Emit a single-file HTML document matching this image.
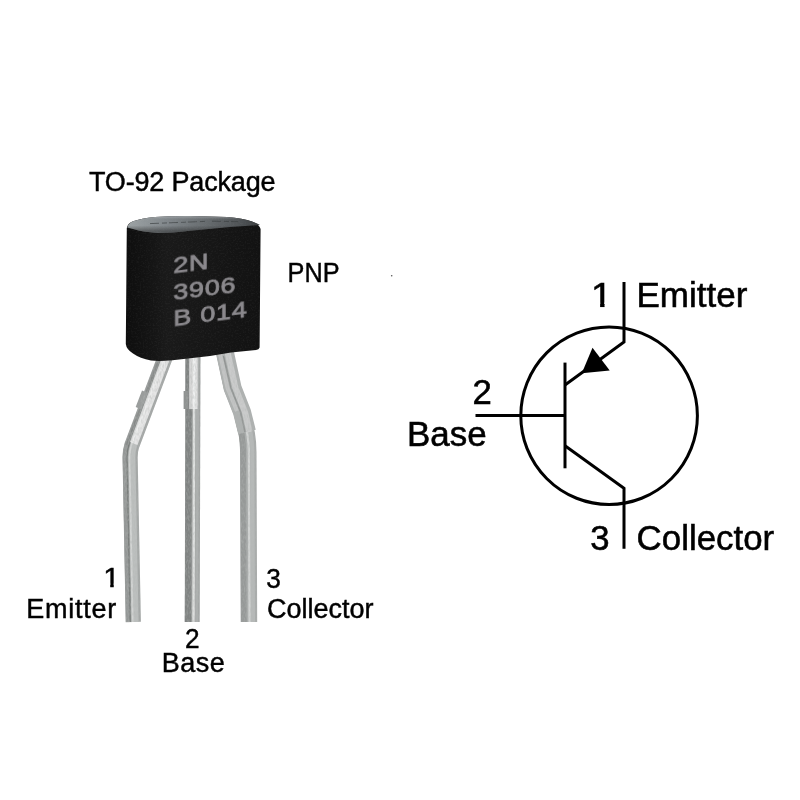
<!DOCTYPE html>
<html lang="en">
<head>
<meta charset="utf-8">
<title>2N3906 PNP Transistor Pinout</title>
<style>
html,body{margin:0;padding:0;background:#fff;}
body{width:800px;height:800px;overflow:hidden;position:relative;font-family:"Liberation Sans",sans-serif;color:#000;}
svg{position:absolute;left:0;top:0;display:block;}
text{font-family:"Liberation Sans",sans-serif;fill:#000;}
.sch{font-size:34.2px;stroke:#000;stroke-width:0.55px;}
.lbl{font-family:"Liberation Sans",sans-serif;font-size:27px;stroke:#000;stroke-width:0.45px;}
.mark{font-size:22.5px;fill:#8b898d;stroke:#8b898d;stroke-width:0.8px;letter-spacing:0.6px;}
.lead{fill:none;stroke-linejoin:round;stroke-linecap:butt;}
</style>
</head>
<body>
<svg width="800" height="800" viewBox="0 0 800 800">
<defs>
  <linearGradient id="bodyg" gradientUnits="userSpaceOnUse" x1="126" y1="0" x2="261" y2="0">
    <stop offset="0" stop-color="#0e0e0e"/>
    <stop offset="0.2" stop-color="#151515"/>
    <stop offset="0.3" stop-color="#1a1a1a"/>
    <stop offset="1" stop-color="#121212"/>
  </linearGradient>
  <linearGradient id="topg" gradientUnits="userSpaceOnUse" x1="128" y1="0" x2="260" y2="0">
    <stop offset="0" stop-color="#9ca2a4"/>
    <stop offset="0.3" stop-color="#80868a"/>
    <stop offset="0.6" stop-color="#666b6e"/>
    <stop offset="0.85" stop-color="#4f5356"/>
    <stop offset="1" stop-color="#3a3d3f"/>
  </linearGradient>
  <filter id="soft" x="-10%" y="-5%" width="120%" height="110%">
    <feGaussianBlur stdDeviation="0.45"/>
  </filter>
  <filter id="soft2" x="-5%" y="-5%" width="110%" height="110%">
    <feGaussianBlur stdDeviation="0.35"/>
  </filter>
  <linearGradient id="topshade" gradientUnits="userSpaceOnUse" x1="0" y1="217" x2="0" y2="231">
    <stop offset="0" stop-color="#c8ccce" stop-opacity="0.35"/>
    <stop offset="0.2" stop-color="#80868a" stop-opacity="0"/>
    <stop offset="0.6" stop-color="#1a1a1a" stop-opacity="0"/>
    <stop offset="1" stop-color="#1a1a1a" stop-opacity="0.45"/>
  </linearGradient>
  <clipPath id="bodyclip"><use href="#bodyshape"/></clipPath>
  <filter id="grainb" x="0" y="0" width="100%" height="100%">
    <feTurbulence type="fractalNoise" baseFrequency="0.6" numOctaves="2" seed="11" result="n"/>
    <feColorMatrix in="n" type="matrix" values="0 0 0 0 0.5  0 0 0 0 0.5  0 0 0 0 0.5  1.6 0 0 0 -0.72"/>
  </filter>
  <filter id="grain" x="0" y="0" width="100%" height="100%">
    <feTurbulence type="fractalNoise" baseFrequency="0.7 0.25" numOctaves="2" seed="7" result="n"/>
    <feColorMatrix in="n" type="matrix" values="0 0 0 0 0.45  0 0 0 0 0.47  0 0 0 0 0.46  2.2 0 0 0 -0.85"/>
  </filter>
  <mask id="leadmask" maskUnits="userSpaceOnUse" x="110" y="340" width="160" height="290">
    <g class="lead" stroke="#fff">
      <use href="#lead1" stroke-width="15"/>
      <use href="#lead2" stroke-width="15"/>
      <use href="#lead3" stroke-width="16"/>
    </g>
  </mask>
  <clipPath id="oneS"><path d="M0 -27 H21 V-4.2 H12.05 V1 H8.15 V-4.2 H0 Z"/></clipPath>
  <clipPath id="oneL"><path d="M0 -22 H17 V-3.7 H9.55 V1 H6.4 V-3.7 H0 Z"/></clipPath>
  <path id="lead1" d="M166 355 L131.8 445.5 Q130 451 130.1 458 L133.3 622"/>
  <path id="lead2" d="M193 354 L192.2 622"/>
  <path id="lead3" d="M224.3 352 L232 388 L241.6 412 L246.8 434 Q248.2 442 248.3 452 L249 622"/>
</defs>
<rect width="800" height="800" fill="#fff"/>

<!-- leads -->
<g id="leads" filter="url(#soft)">
  <g class="lead">
    <use href="#lead1" stroke="#a4a7a6" stroke-width="15.2"/>
    <use href="#lead1" stroke="#949796" stroke-width="5.6" transform="translate(-4.6 0)"/>
    <use href="#lead1" stroke="#7a7e7c" stroke-width="1.2" transform="translate(-3.1 0)"/>
    <use href="#lead1" stroke="#bcbfbe" stroke-width="7" transform="translate(1.8 0)"/>
    <use href="#lead1" stroke="#d2d4d3" stroke-width="1.8" transform="translate(-0.6 0)"/>
  </g>
  <g class="lead">
    <use href="#lead2" stroke="#a0a3a2" stroke-width="15"/>
    <use href="#lead2" stroke="#808382" stroke-width="6.4" transform="translate(-4.1 0)"/>
    <use href="#lead2" stroke="#dfe1e0" stroke-width="2.4" transform="translate(1.3 0)"/>
    <use href="#lead2" stroke="#acafae" stroke-width="3" transform="translate(4.5 0)"/>
  </g>
  <g class="lead">
    <use href="#lead3" stroke="#a9acab" stroke-width="16.4"/>
    <use href="#lead3" stroke="#969998" stroke-width="5.8" transform="translate(-5.2 0)"/>
    <use href="#lead3" stroke="#d2d4d3" stroke-width="2.4" transform="translate(0.6 0)"/>
    <use href="#lead3" stroke="#b6b9b8" stroke-width="4" transform="translate(4 0)"/>
  </g>
  <!-- flattened upper sections catch more light -->
  <path class="lead" d="M224.8 352 L232.6 388 L242 412 L247 432" stroke="#aeb1b0" stroke-width="18"/>
  <g class="lead" opacity="0.75">
    <path d="M167 355 L133.6 443.5" stroke="#f4f4f4" stroke-width="8"/>
    <path d="M193.4 354 L193.4 409" stroke="#f4f4f4" stroke-width="8.5"/>
  </g>
  <g class="lead" opacity="0.5">
    <path d="M227.5 352 L235.5 388 L245 412 L249.5 432" stroke="#e6e6e6" stroke-width="6"/>
    <path d="M220 354 L227.5 388 L237 411" stroke="#d8d8d8" stroke-width="4"/>
  </g>
  <g class="lead" opacity="0.6">
    <path d="M160 357 L126.2 445" stroke="#7d807f" stroke-width="1.6"/>
    <path d="M186.2 357 L186.2 391" stroke="#7d807f" stroke-width="1.3"/>
    <path d="M223.5 356 L231 388 L240.5 412 L245 432" stroke="#7f8281" stroke-width="1.5"/>
  </g>
  <rect x="183.6" y="391" width="4.6" height="18" fill="#8f9291"/>
  <path d="M142 390.5 L148 393 L141.5 409.5 L135.7 407 Z" fill="#9a9d9c"/>
  <rect x="115" y="300" width="150" height="330" fill="#808080" filter="url(#grain)" mask="url(#leadmask)" opacity="0.45"/>
</g>

<!-- body -->
<g id="body">
  <path id="bodyshape" d="M126.8 228 Q127.5 223.5 133 221.2 Q141 218.5 155 217 Q172 216 190 216.1 L227 217 Q243 218 252 221.5 Q259 224 260.6 229 L259.6 347.5 Q259 349.5 256 350 L231 352.6 L210 356 L172.5 360.2 Q160 361.6 151 360.6 Q140 358.5 133 353.5 Q126.5 349.5 125.8 344 Z" fill="url(#bodyg)"/>
  <path d="M127.2 227.5 Q128 223.5 133 221.2 Q141 218.5 155 217 Q172 216 190 216.1 L227 217 Q243 218 252 221.5 Q258 223.5 260 225 L230 227 L190 230.8 Q170 233.2 157.5 233 Q142 231.8 134 229.3 Z" fill="url(#topg)"/>
  <path d="M127.2 227.5 Q128 223.5 133 221.2 Q141 218.5 155 217 Q172 216 190 216.1 L227 217 Q243 218 252 221.5 Q258 223.5 260 225 L230 227 L190 230.8 Q170 233.2 157.5 233 Q142 231.8 134 229.3 Z" fill="url(#topshade)"/>
  <path d="M150 223.6 L205 221.4 M212 221.2 L238 221.6" fill="none" stroke="#3c4042" stroke-width="0.9" stroke-dasharray="9 3 5 2" opacity="0.75"/>
  <rect x="120" y="210" width="145" height="155" fill="#fff" filter="url(#grainb)" clip-path="url(#bodyclip)" opacity="0.1"/>
</g>
<g transform="translate(173.3 0) skewY(-7.3) scale(1.2 1)" filter="url(#soft2)">
  <text class="mark" x="0" y="273.2">2N</text>
  <text class="mark" x="0" y="299.8">3906</text>
  <text class="mark" x="0" y="326.4">B 014</text>
</g>

<g id="labels" opacity="0.999">
<text class="lbl" x="89" y="191.1" textLength="186.6" lengthAdjust="spacing">TO-92 Package</text>
<text class="lbl" x="287.6" y="282" textLength="52" lengthAdjust="spacingAndGlyphs">PNP</text>
<text class="lbl" transform="translate(103.2 587.2) scale(1.1 1)" clip-path="url(#oneL)">1</text>
<text class="lbl" x="26.2" y="618" textLength="90" lengthAdjust="spacing">Emitter</text>
<text class="lbl" x="266.2" y="587.6" textLength="14.6" lengthAdjust="spacingAndGlyphs">3</text>
<text class="lbl" x="267" y="618" textLength="106.6" lengthAdjust="spacing">Collector</text>
<text class="lbl" x="185" y="647.6" textLength="14.6" lengthAdjust="spacingAndGlyphs">2</text>
<text class="lbl" x="161.8" y="672" textLength="63" lengthAdjust="spacing">Base</text>
</g>
<circle cx="391.7" cy="275.7" r="0.8" fill="#555"/>

<!-- schematic -->
<g fill="none" stroke="#000" stroke-width="3">
  <ellipse cx="609.1" cy="415.7" rx="88.3" ry="88.8"/>
  <path d="M624 282 L624 342 L565 385"/>
  <path d="M565 362.6 L565 468.3"/>
  <path d="M475.5 415.6 L565 415.6"/>
  <path d="M565 445.8 L624 488.2 L624 548.8"/>
</g>
<path d="M592.5 347.8 L609.7 370.6 L581.8 373.2 Z" fill="#000"/>
<g id="schlabels" opacity="0.999">
<text class="sch" transform="translate(591 306.6) scale(1.12 1)" clip-path="url(#oneS)">1</text>
<text class="sch" x="636.5" y="306.6" textLength="110.8" lengthAdjust="spacingAndGlyphs">Emitter</text>
<text class="sch" x="472.4" y="404" textLength="19.3" lengthAdjust="spacingAndGlyphs">2</text>
<text class="sch" x="407" y="445.8" textLength="79.6" lengthAdjust="spacingAndGlyphs">Base</text>
<text class="sch" x="590.3" y="550.2" textLength="19.3" lengthAdjust="spacingAndGlyphs">3</text>
<text class="sch" x="636.6" y="550.2" textLength="137.6" lengthAdjust="spacingAndGlyphs">Collector</text>
</g>
</svg>
</body>
</html>
